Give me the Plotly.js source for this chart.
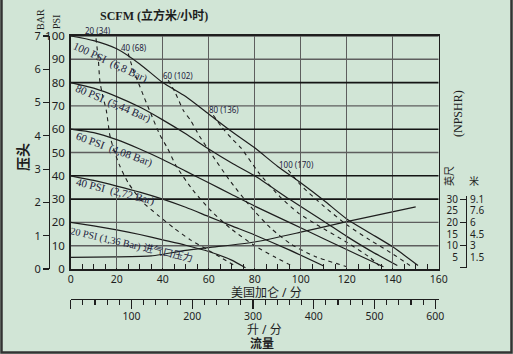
<!DOCTYPE html>
<html><head><meta charset="utf-8">
<script src="https://cdn.plot.ly/plotly-3.0.1.min.js"></script>
<style>html,body{margin:0;padding:0;background:#d1e5d6;}#chart{width:513px;height:354px;}</style>
</head><body><div id="chart"></div>
<script>
// ---- data ----
const gpmTicks = [0,20,40,60,80,100,120,140,160];
const psiTicks = [0,10,20,30,40,50,60,70,80,90,100];
const barTicks = [0,1,2,3,4,5,6,7];
const lpmTicks = [0,100,200,300,400,500,600];
const lpmLabels = ['','100','200','300','400','500','600'];
const ftTicks = [5,10,15,20,25,30];
const ftLabels = ['5','10','15','20','25','30'];
const mLabels = ['1.5','3','4.5','6','7.6','9.1'];
const darkGridPsi = [30,40,60,80];
const lightGridPsi = [10,20,50,70,90,100];

const gpm100 = [0,10,20,30,40,50,60,70,80,90,100,110,120,130,140,151];
const psi100 = [100,98,94.5,88,80,74,66.5,59,52,44,37,29.5,21.5,15.5,9.5,1.5];
const gpm80 = [0,10,20,30,40,50,60,70,80,95,110,120,130,142];
const psi80 = [80,77.6,74,69.5,64,58,51.5,45.5,40,30,20.5,14,8,1.5];
const gpm60 = [0,10,20,30,40,50,60,70,80,95,110,125,136];
const psi60 = [60,58.5,55.5,51.5,47,42,37,32,27,20,13,6,1];
const gpm40 = [0,10,20,30,40,50,60,70,80,95,110];
const psi40 = [40,38,35.6,33,30,26.5,22.5,18.5,14.6,8.2,1.3];
const gpm20 = [0,10,20,30,40,50,60,70,76];
const psi20 = [20,18.5,16.8,14.8,12.5,10.2,7.5,3.8,0.5];
const gpmNpshr = [0,20,35,40,50,60,80,100,120,150];
const ftNpshr = [5,5.2,5.6,6.3,8,9.2,11.6,15.8,20.3,26.7];

const gpmScfm20 = [11,12,12.7,14,15.5,17,18.5,21,25,31,38,45,52,60,66,72];
const psiScfm20 = [99,90,80.4,74,68,57.5,52,45,37,29,23,17.5,12.5,8,4.5,1];
const gpmScfm40 = [25,27,29.4,32,34.5,38.8,42,46,53,61,70,80,89,97];
const psiScfm40 = [92.5,86,80,73.5,67.5,57.5,52,44,34,25,17,10,5,1];
const gpmScfm60 = [42.4,45.3,49,52,56,61,69,78,87,96,106,120];
const psiScfm60 = [81,76,68,64,57,49.6,38.2,27,17.5,10.5,5.5,1];
const gpmScfm80 = [62,65.6,70,74,82,91,99,107,120,130,134];
const psiScfm80 = [66,61,56,52,41,31,24,19,11.5,5,1.5];
const gpmScfm100 = [94.6,100,110,120,130,140,147.5];
const psiScfm100 = [42.5,36,27,19,12.5,6.5,1.5];

const curveLabels = ['100 PSI\u00a0\u00a0(6,8 Bar)','80 PSI\u00a0\u00a0(5,44 Bar)','60 PSI\u00a0\u00a0(4,08 Bar)','40 PSI\u00a0\u00a0(2,72 Bar)','20 PSI (1,36 Bar) 进气口压力'];
const scfmLabels = ['20 (34)','40 (68)','60 (102)','80 (136)','100 (170)'];

// ---- geometry helpers ----
const W = 513, H = 354;
const PX = x => x / W, PY = y => 1 - y / H;
const plotL = 70.7, plotR = 438.7, plotT = 36, plotB = 269;
const psiPerPx = 100 / (plotB - plotT);
const LPM_PER_GPM = 3.785411784;

const BG = '#d1e5d6';
const INK = '#1e1e1e';
const LBL = '#1f2340';
const sans = 'Noto Sans, Noto Sans CJK SC, sans-serif';
const serif = 'Liberation Serif, Noto Sans CJK SC, serif';

const solid = {color: INK, width: 1.2, shape: 'spline', smoothing: 0.6};
const dashed = {color: INK, width: 1.1, dash: '4px,4px', shape: 'spline', smoothing: 0.6};
function tr(x, y, line) { return {x, y, type: 'scatter', mode: 'lines', line, hoverinfo: 'skip'}; }

const data = [
  tr(gpm100, psi100, solid), tr(gpm80, psi80, solid), tr(gpm60, psi60, solid),
  tr(gpm40, psi40, solid), tr(gpm20, psi20, solid), tr(gpmNpshr, ftNpshr, solid),
  tr(gpmScfm20, psiScfm20, dashed), tr(gpmScfm40, psiScfm40, dashed), tr(gpmScfm60, psiScfm60, dashed),
  tr(gpmScfm80, psiScfm80, dashed), tr(gpmScfm100, psiScfm100, dashed),
  {x:[null], y:[null], xaxis:'x', yaxis:'y2', type:'scatter', mode:'lines', hoverinfo:'skip'},
  {x:[null], y:[null], xaxis:'x2', yaxis:'y', type:'scatter', mode:'lines', hoverinfo:'skip'},
  {x:[null], y:[null], xaxis:'x', yaxis:'y3', type:'scatter', mode:'lines', hoverinfo:'skip'},
  {x:[null], y:[null], xaxis:'x', yaxis:'y4', type:'scatter', mode:'lines', hoverinfo:'skip'},
  {x:[null], y:[null], xaxis:'x', yaxis:'y5', type:'scatter', mode:'lines', hoverinfo:'skip'}
];

const shapes = [];
darkGridPsi.forEach(v => shapes.push({type:'line', xref:'x', yref:'y', x0:0, x1:160, y0:v, y1:v, layer:'between', line:{color:'#151515', width:1.6}}));
lightGridPsi.forEach(v => shapes.push({type:'line', xref:'x', yref:'y', x0:0, x1:160, y0:v, y1:v, layer:'between', line:{color:'#5e5e5e', width:1.4}}));
shapes.push({type:'rect', xref:'paper', yref:'paper', x0:PX(1.5), x1:PX(511.5), y0:PY(352.5), y1:1.05, line:{color:'#333', width:2.5}, fillcolor:'rgba(0,0,0,0)'});

const npLow = (plotB - 268) * psiPerPx, npHigh = (plotB - 196) * psiPerPx;

const annotations = [];
const C = {xanchor:'center', yanchor:'middle', showarrow:false};
const curvePos = [[17.4,88.6,25,11],[18.5,71.1,23,11],[18.9,51.4,20,11],[19.3,33.2,14,11],[26.3,10.4,13,10.2]];
curveLabels.forEach((t,i) => annotations.push(Object.assign({text:t, xref:'x', yref:'y', x:curvePos[i][0], y:curvePos[i][1], textangle:curvePos[i][2], font:{family:serif, size:curvePos[i][3], color:LBL}}, C)));
// [x, y, extra pixel shift above y]
const scfmPos = [[11.9,100,5],[27.6,95.1,0],[46.8,83.0,0],[66.7,68.5,0],[98.3,44.8,0]];
scfmLabels.forEach((t,i) => annotations.push(Object.assign({text:t, xref:'x', yref:'y', x:scfmPos[i][0], y:scfmPos[i][1], yshift:scfmPos[i][2], font:{family:sans, size:8, color:LBL}}, C)));
function pa(text, x, y, opts) { return Object.assign({text, xref:'paper', yref:'paper', x:PX(x), y:PY(y)}, C, opts); }
annotations.push(pa('BAR', 40, 20, {textangle:-90, font:{family:serif, size:10, color:INK}}));
annotations.push(pa('PSI', 57, 22, {textangle:-90, font:{family:serif, size:10, color:INK}}));
annotations.push(pa('<b>SCFM (立方米/小时)</b>', 154, 15, {font:{family:serif, size:12, color:INK}}));
annotations.push(pa('<b>压头</b>', 22, 157, {textangle:-90, font:{family:sans, size:14, color:INK}}));
annotations.push(pa('美国加仑 / 分', 266, 292, {font:{family:sans, size:12, color:INK}}));
annotations.push(pa('升 / 分', 264, 329, {font:{family:sans, size:12, color:INK}}));
annotations.push(pa('<b>流量</b>', 262, 343.5, {font:{family:sans, size:12, color:INK}}));
annotations.push(pa('(NPSHR)', 458, 114, {textangle:-90, font:{family:serif, size:12, color:INK}}));
annotations.push(pa('英尺', 449, 176, {textangle:-90, font:{family:sans, size:10, color:INK}}));
annotations.push(pa('米', 474, 181, {font:{family:sans, size:10, color:INK}}));

const tickFont = {family: sans, size: 11, color: INK};
const npFont = {family: sans, size: 10, color: INK};

const layout = {
  width: W, height: H, margin: {l:0, r:0, t:0, b:0},
  paper_bgcolor: BG, plot_bgcolor: 'rgba(0,0,0,0)', showlegend: false,
  xaxis: {domain:[PX(plotL), PX(plotR)], range:[0,160], tickvals:gpmTicks, ticks:'inside', ticklen:5, tickwidth:1.2, tickcolor:INK,
    showgrid:true, gridcolor:'#5e5e5e', gridwidth:1.5, showline:true, linecolor:INK, linewidth:1.6, mirror:true, zeroline:false,
    minor:{dtick:5, ticks:'inside', ticklen:5, tickwidth:1.1, tickcolor:INK, showgrid:false}, tickfont:{family:sans, size:10.5, color:INK}, fixedrange:true},
  yaxis: {domain:[PY(plotB), PY(plotT)], range:[0,100], tickvals:psiTicks, ticks:'', showgrid:false, showline:true, linecolor:INK, linewidth:1.6,
    mirror:true, zeroline:false, tickfont:{family:sans, size:11.5, color:INK}, ticklabelstandoff:2, fixedrange:true},
  yaxis2: {overlaying:'y', anchor:'free', position:PX(49), side:'left', range:[0,7], tickvals:barTicks, ticks:'outside', ticklen:6, tickwidth:1.2,
    tickcolor:INK, showline:true, linecolor:INK, linewidth:1.2, showgrid:false, zeroline:false, tickfont:tickFont},
  xaxis2: {overlaying:'x', anchor:'free', position:PY(299), side:'bottom', range:[0,160*LPM_PER_GPM], tickvals:lpmTicks, ticktext:lpmLabels,
    ticks:'outside', ticklen:9, tickwidth:1.2, tickcolor:INK, minor:{dtick:20, ticks:'outside', ticklen:5, tickwidth:1.1, tickcolor:INK, showgrid:false},
    showline:true, linecolor:INK, linewidth:1.2, showgrid:false, zeroline:false, tickfont:{family:sans, size:10.5, color:INK}, ticklabelstandoff:-2},
  yaxis3: {domain:[PY(268), PY(196)], anchor:'free', position:PX(466), side:'left', range:[npLow, npHigh], tickvals:[npLow+0.05,10,20,30], ticktext:['','10','20','30'],
    ticks:'outside', ticklen:6, tickwidth:1.2, tickcolor:INK, showline:true, linecolor:INK, linewidth:1.2, showgrid:false, zeroline:false, tickfont:npFont},
  yaxis4: {overlaying:'y3', anchor:'free', position:PX(466), side:'left', range:[npLow, npHigh], tickvals:[5,15,25], ticktext:['5','15','25'],
    ticks:'outside', ticklen:6, tickcolor:'rgba(0,0,0,0)', showline:false, showgrid:false, zeroline:false, tickfont:npFont},
  yaxis5: {overlaying:'y3', anchor:'free', position:PX(466), side:'right', range:[npLow, npHigh], tickvals:ftTicks, ticktext:mLabels,
    ticks:'', showline:false, showgrid:false, zeroline:false, tickfont:npFont, ticklabelstandoff:3},
  shapes, annotations
};

Plotly.newPlot('chart', data, layout, {staticPlot:true, displayModeBar:false});
</script></body></html>
